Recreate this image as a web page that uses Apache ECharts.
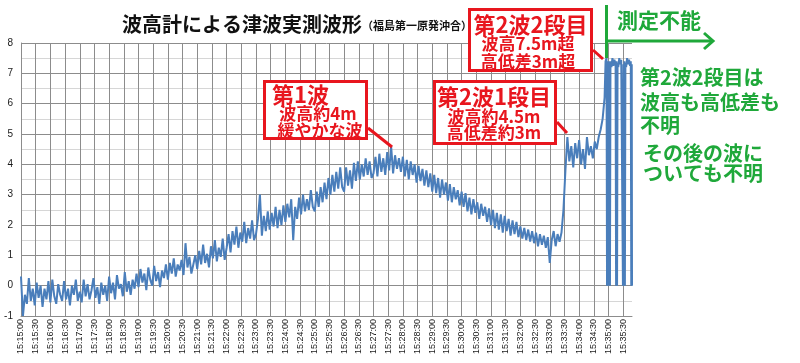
<!DOCTYPE html>
<html><head><meta charset="utf-8">
<script src="https://cdn.jsdelivr.net/npm/echarts@6/dist/echarts.min.js"></script>
<style>html,body{margin:0;padding:0;background:#fff}#c{width:800px;height:363px}</style>
</head><body><div id="c"></div>
<script>
// ---- time base ----
const startSec = 15 * 3600 + 15 * 60;   // 15:15:00
const stepSec = 4;                      // sampling step of the regular part
const xMaxSec = 1248;
const xTickSec = 30;
const yMin = -1, yMax = 8;

// ---- wave height (m), every 4 s from 15:15:00 ----
const wave0 = [0.3,-1.0,-0.3,-0.6,0.25,-0.5,-0.1,-0.65,0.1,-0.4,0.0,-0.7,-0.1,-0.45,0.15];
const wave1 = [-0.55,0.2,-0.35,-0.6,0.05,-0.3,-0.5,0.15,-0.45,-0.1,-0.65,0.0,-0.3,0.2,-0.5];
const wave2 = [-0.2,-0.55,0.2,-0.35,0.05,-0.45,-0.15,0.25,-0.4,-0.05,-0.6,0.1,-0.3,0.0,-0.5];
const wave3 = [0.3,-0.25,0.1,-0.45,0.35,-0.1,0.05,-0.35,0.45,-0.2,0.15,-0.3,0.2,-0.1,0.4];
const wave4 = [-0.05,0.55,0.1,0.4,-0.15,0.6,0.2,0.0,0.65,0.15,0.45,-0.05,0.5,0.25,0.7];
const wave5 = [0.2,0.75,0.4,0.9,0.3,0.7,0.5,0.85,0.35,1.4,0.6,0.95,0.4,0.7,1.0];
const wave6 = [0.55,1.15,0.7,1.35,0.75,1.05,0.6,1.3,0.9,1.5,0.8,1.25,0.95,1.55,0.85];
const wave7 = [1.25,1.7,1.1,1.8,1.35,1.95,1.25,1.75,1.45,2.1,1.4,1.9,1.55,2.15,1.5];
const wave8 = [1.7,2.2,3.0,1.65,2.3,1.8,2.45,1.85,2.4,1.95,2.6,1.9,2.5,2.0,2.65];
const wave9 = [2.1,2.7,2.25,2.85,1.5,2.6,2.2,2.9,2.35,3.0,2.45,2.85,2.5,3.15,2.6];
const wave10 = [2.45,3.1,2.6,3.25,2.75,3.4,2.85,3.55,3.0,3.65,3.1,3.75,3.2,3.9,3.25];
const wave11 = [3.1,3.9,3.3,3.8,3.2,4.05,3.45,4.1,3.5,4.0,3.6,4.2,3.65,4.1,3.55];
const wave12 = [3.7,4.25,3.6,4.35,3.75,4.2,3.65,4.4,3.8,4.6,3.7,4.3,3.85,4.2,3.75];
const wave13 = [4.25,3.6,4.15,3.5,4.1,3.65,4.0,3.4,3.95,3.45,3.85,3.3,3.8,3.25,3.7];
const wave14 = [3.1,3.65,3.05,3.55,2.9,3.5,3.0,3.4,2.8,3.35,2.75,3.25,2.85,3.15,2.65];
const wave15 = [3.1,2.6,3.05,2.45,2.9,2.35,2.85,2.4,2.75,2.2,2.7,2.3,2.6,2.1,2.55];
const wave16 = [2.0,2.5,1.9,2.4,1.85,2.35,1.75,2.3,1.8,2.2,1.65,2.15,1.7,2.1,1.6];
const wave17 = [1.95,1.55,1.9,1.5,1.85,1.45,1.8,1.4,1.75,1.3,1.7,1.35,1.65,1.25,1.6];
const wave18 = [0.75,1.5,1.8,1.3,1.7,1.45,1.75,2.5,3.8,4.9,4.1,4.6,3.9,4.7,4.2];
const wave19 = [4.8,4.0,4.5,3.85,4.9,4.3,4.6,4.2,4.75,4.5,4.9,5.15,5.5,6.2];

// ---- final part (sensor saturated / failing), explicit seconds after 15:15:00 ----
const lateSec = [1194,1196,1197,1198,1199,1200,1201,1202,1203,1204,1206,1208,1210,1212,1214.5,1215.5,1216.5,1217.5,1218.5,
  1220,1222,1224,1226,1228.5,1229.5,1230.5,1231.5,1232.5,1233.5,1234.5,1236,1238,1240,1242,1244,1245.5,1246.5,1247.5,1248];
const lateVal = [7.4,7.5,0,7.3,0,7.4,0,7.35,0,7.4,7.2,7.5,7.25,7.45,7.3,0,7.4,0,7.35,
  7.2,7.5,7.3,7.45,7.4,0,7.3,0,7.4,0,7.35,7.2,7.5,7.3,7.45,7.25,7.4,0,7.3,0];

const regular = [].concat(wave0,wave1,wave2,wave3,wave4,wave5,wave6,wave7,wave8,wave9,
  wave10,wave11,wave12,wave13,wave14,wave15,wave16,wave17,wave18,wave19);
const seriesData = regular.map((v, i) => [i * stepSec, v])
  .concat(lateSec.map((t, i) => [t, lateVal[i]]));

function fmtTime(v) {
  const s = startSec + v;
  const h = Math.floor(s / 3600), m = Math.floor((s % 3600) / 60), sec = s % 60;
  const p = n => String(n).padStart(2, '0');
  return h + ':' + p(m) + ':' + p(sec);
}

const FONT = '"Noto Sans CJK JP", "Noto Sans", sans-serif';
const red = '#e8161e', green = '#1fa83a';
function txt(x, y, s, size, color, align) {
  return {type: 'text', z: 100, style: {x: x, y: y, text: s, fill: color,
    font: 'bold ' + size + 'px ' + FONT, align: align || 'left', verticalAlign: 'middle'}};
}
function box(x, y, w, h) {
  return {type: 'rect', z: 99, shape: {x: x, y: y, width: w, height: h},
    style: {fill: '#fff', stroke: red, lineWidth: 3}};
}
function seg(x1, y1, x2, y2, color) {
  return {type: 'line', z: 99, shape: {x1: x1, y1: y1, x2: x2, y2: y2},
    style: {stroke: color, lineWidth: 3}};
}

const chart = echarts.init(document.getElementById('c'), null, {renderer: 'canvas'});
chart.setOption({
  animation: false,
  backgroundColor: '#fff',
  title: {
    left: 117, top: 9,
    text: '{a|波高計による津波実測波形}{b|（福島第一原発沖合）}',
    textStyle: {rich: {
      a: {fontFamily: FONT, fontWeight: 'bold', fontSize: 20, color: '#111'},
      b: {fontFamily: FONT, fontWeight: 'bold', fontSize: 11, color: '#111', padding: [4, 0, 0, 0]}
    }}
  },
  grid: {left: 21, right: 168, top: 43, bottom: 47},
  xAxis: {
    type: 'value', min: 0, max: xMaxSec, interval: xTickSec,
    axisLine: {show: true, onZero: false, lineStyle: {color: '#8c8c8c'}},
    axisTick: {show: false},
    axisLabel: {rotate: 90, margin: 3, fontSize: 9, color: '#1a1a1a', fontFamily: 'Liberation Sans',
      showMaxLabel: false,
      formatter: v => (v % xTickSec === 0 ? fmtTime(v) : '')},
    splitLine: {show: true, showMaxLine: false, lineStyle: {color: '#8c8c8c', width: 1}}
  },
  yAxis: {
    type: 'value', min: yMin, max: yMax, interval: 1,
    axisLine: {show: true, lineStyle: {color: '#8c8c8c'}},
    axisTick: {show: false},
    axisLabel: {fontSize: 10, color: '#1a1a1a', margin: 8, fontFamily: 'Liberation Sans'},
    splitLine: {show: true, lineStyle: {color: '#8c8c8c', width: 1}},
    minorTick: {show: false, splitNumber: 2},
    minorSplitLine: {show: true, lineStyle: {color: '#d6d6d6', width: 1}}
  },
  series: [{
    type: 'line', data: seriesData, showSymbol: false, symbol: 'none',
    lineStyle: {color: '#4a7ebb', width: 2}, itemStyle: {color: '#4a7ebb'}
  }],
  graphic: [
    box(264.5, 81.5, 102, 57),
    seg(368, 128, 392, 147, red),
    txt(272, 95, '第1波', 22, red),
    txt(318, 114, '波高約4m', 17, red, 'center'),
    txt(320, 131, '緩やかな波', 17, red, 'center'),

    box(434.5, 81.5, 121, 62),
    seg(557, 122, 567, 133, red),
    txt(494, 97, '第2波1段目', 22, red, 'center'),
    txt(494, 117, '波高約4.5m', 17, red, 'center'),
    txt(494, 133, '高低差約3m', 17, red, 'center'),

    box(469.5, 9.5, 122, 61),
    seg(593, 50, 603, 59, red),
    txt(530.5, 25, '第2波2段目', 22, red, 'center'),
    txt(528, 44, '波高7.5m超', 17, red, 'center'),
    txt(528, 62, '高低差3m超', 17, red, 'center'),

    seg(606.5, 5, 606.5, 58, green),
    seg(606.5, 41, 712, 41, green),
    {type: 'polyline', z: 99, shape: {points: [[704, 33], [713, 41], [704, 49]]},
      style: {stroke: green, lineWidth: 3, fill: null}},
    txt(617, 20, '測定不能', 21, green),

    txt(640, 77, '第2波2段目は', 20, green),
    txt(640, 102, '波高も高低差も', 20, green),
    txt(640, 125, '不明', 20, green),
    txt(643, 153, 'その後の波に', 20, green),
    txt(643, 173, 'ついても不明', 20, green)
  ]
});
</script></body></html>
